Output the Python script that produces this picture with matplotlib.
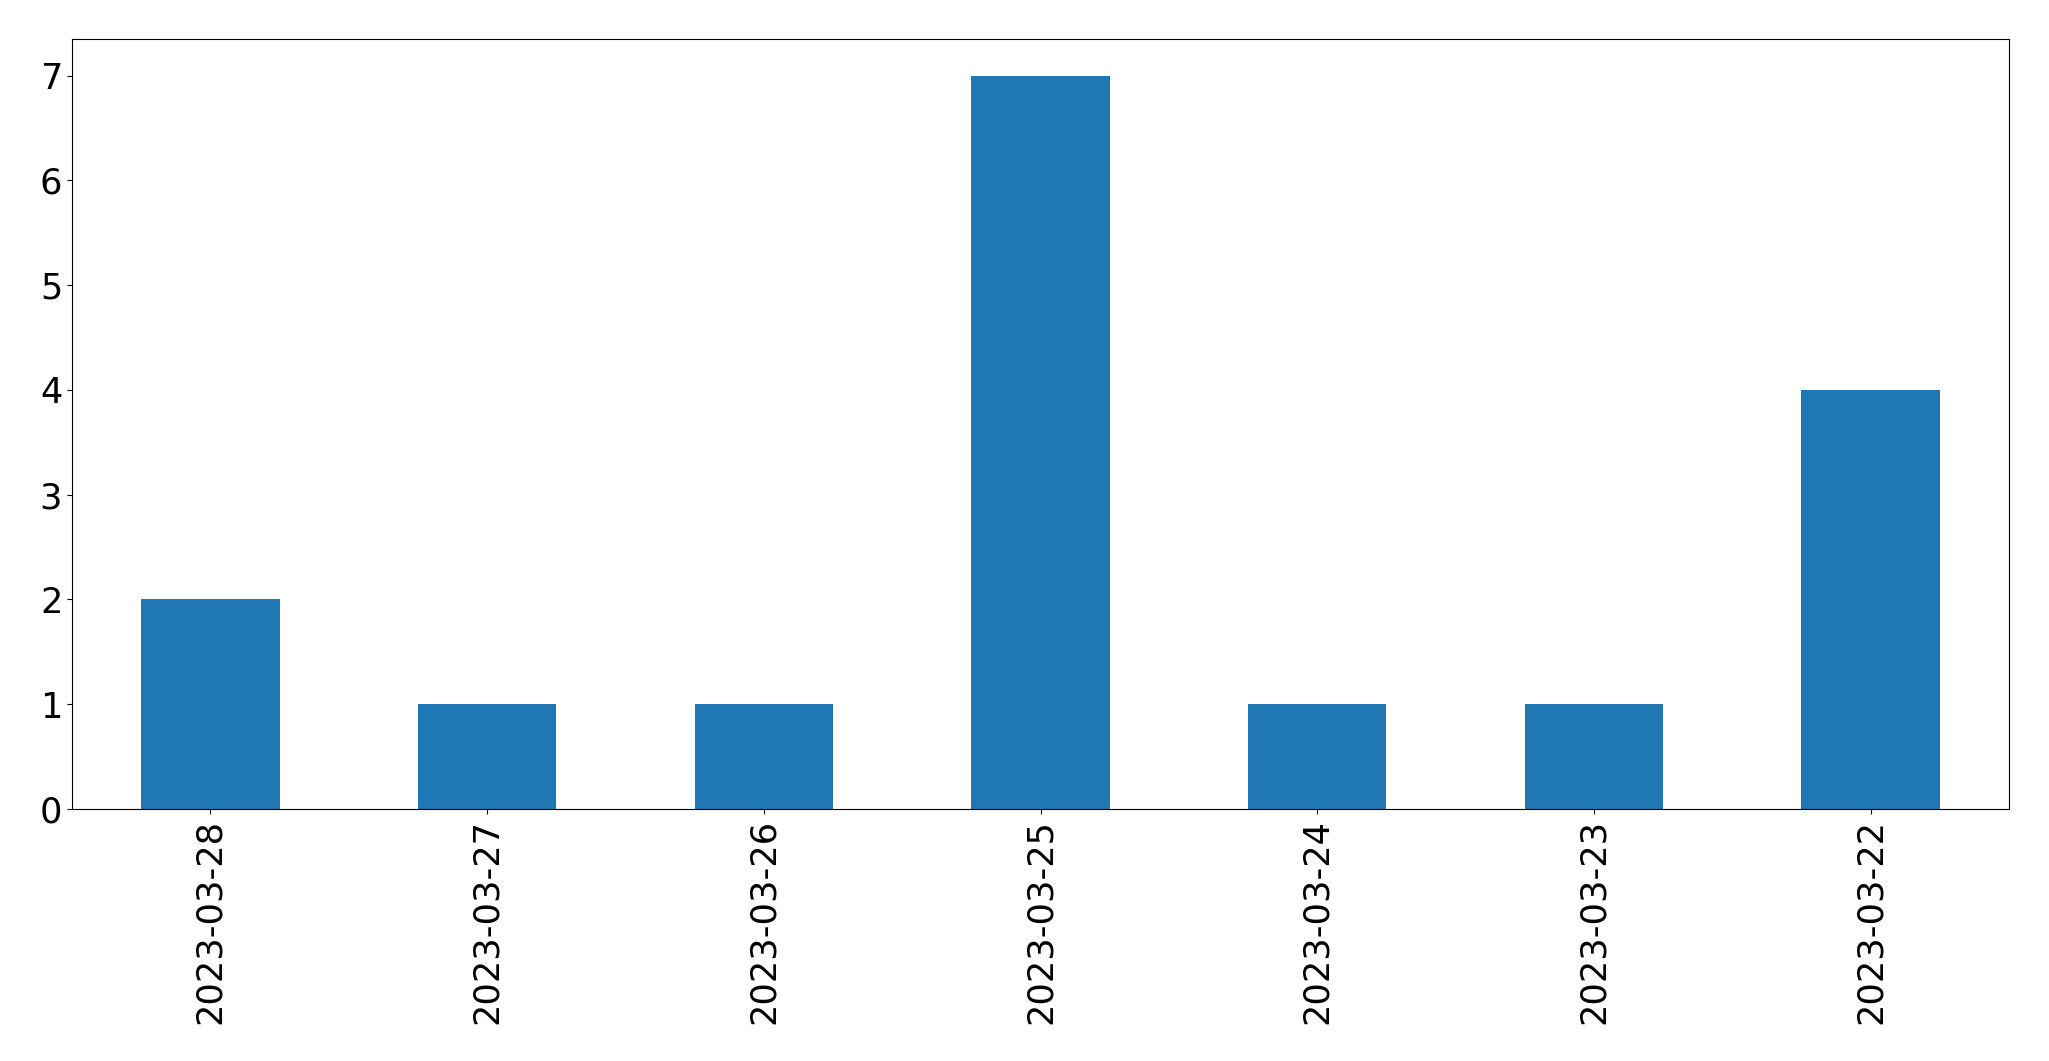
import matplotlib
matplotlib.use("Agg")
import matplotlib.pyplot as plt

dates = ['2023-03-28', '2023-03-27', '2023-03-26', '2023-03-25', '2023-03-24', '2023-03-23', '2023-03-22']
counts = [2, 1, 1, 7, 1, 1, 4]

fig, ax = plt.subplots(figsize=(20.49, 10.61), dpi=100)
x = range(len(dates))
ax.bar(x, counts, width=0.5, color='#1f77b4')
ax.set_xlim(-0.5, len(dates) - 0.5)
ax.set_xticks(list(x))
ax.set_xticklabels(dates, rotation=90)
ax.tick_params(labelsize=25.3)
fig.subplots_adjust(left=72/2049, right=2009/2049, top=1-39/1061, bottom=1-809/1061)
fig.savefig('out.png', dpi=100)
